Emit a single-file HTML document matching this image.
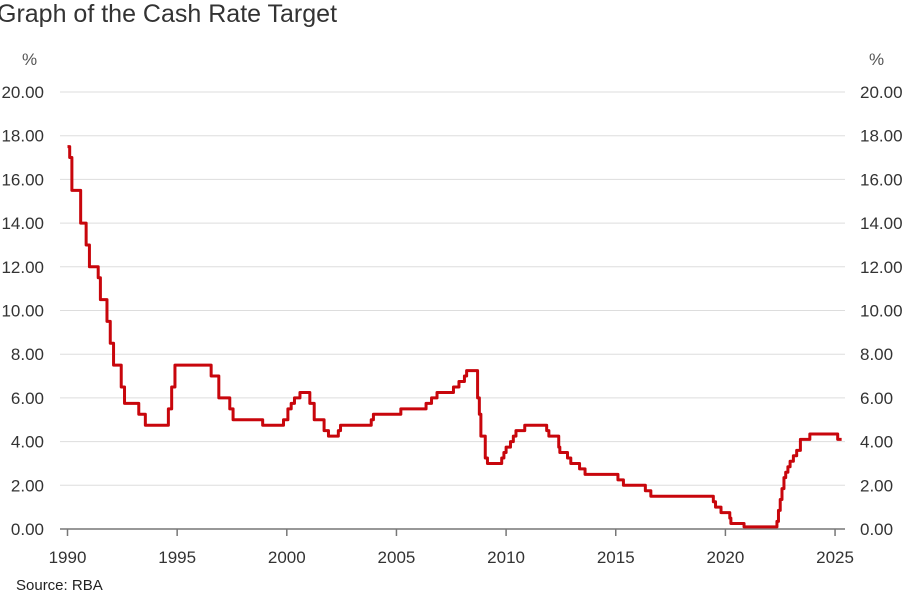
<!DOCTYPE html>
<html><head><meta charset="utf-8"><style>
html,body{margin:0;padding:0;background:#fff;width:905px;height:613px;overflow:hidden}
svg{display:block;font-family:"Liberation Sans",Arial,sans-serif}
</style></head><body>
<svg id="s" width="905" height="613" viewBox="0 0 905 613" xmlns="http://www.w3.org/2000/svg">
<text x="-3" y="22" font-size="25" fill="#333">Graph of the Cash Rate Target</text>
<text x="22" y="65" font-size="17" fill="#555">%</text>
<text x="869" y="65" font-size="17" fill="#555">%</text>
<g id="grid"></g>
<line x1="60" y1="529" x2="845" y2="529" stroke="#777" stroke-width="1.5"/>
<g id="ticks"></g>
<text x="16" y="590" font-size="15" fill="#222">Source: RBA</text>
<path id="line" fill="none" stroke="#c8060c" stroke-width="3" stroke-linejoin="round"/>
</svg>
<script>
var X=function(t){return 67.5+(t-1990)*21.93},Y=function(r){return 529-r*21.85};
var g='';
for(var v=0;v<=20;v+=2){var y=Y(v);
 if(v>0)g+='<line x1="60" x2="845" y1="'+y+'" y2="'+y+'" stroke="#ddd" stroke-width="1"/>';
 var l=v.toFixed(2);
 g+='<text x="44" y="'+(y+6)+'" font-size="17" fill="#333" text-anchor="end">'+l+'</text>';
 g+='<text x="860" y="'+(y+6)+'" font-size="17" fill="#333">'+l+'</text>';}
document.getElementById('grid').innerHTML=g;
var t='';
for(var yr=1990;yr<=2025;yr+=5){var x=X(yr);
 t+='<line x1="'+x+'" x2="'+x+'" y1="529" y2="536" stroke="#777" stroke-width="1.5"/>';
 t+='<text x="'+x+'" y="563" font-size="17" fill="#333" text-anchor="middle">'+yr+'</text>';}
document.getElementById('ticks').innerHTML=t;
var d=[[1990,17.5],[1990.1,17],[1990.2,15.5],[1990.6,14],[1990.85,13],[1991.0,12],[1991.4,11.5],[1991.5,10.5],[1991.8,9.5],[1991.95,8.5],[1992.1,7.5],[1992.45,6.5],[1992.6,5.75],[1993.25,5.25],[1993.55,4.75],[1994.6,5.5],[1994.75,6.5],[1994.9,7.5],[1996.55,7],[1996.9,6],[1997.4,5.5],[1997.55,5],[1998.9,4.75],[1999.85,5],[2000.05,5.5],[2000.2,5.75],[2000.35,6],[2000.6,6.25],[2001.05,5.75],[2001.25,5],[2001.7,4.5],[2001.9,4.25],[2002.35,4.5],[2002.45,4.75],[2003.85,5],[2003.95,5.25],[2005.2,5.5],[2006.35,5.75],[2006.6,6],[2006.85,6.25],[2007.6,6.5],[2007.85,6.75],[2008.1,7],[2008.2,7.25],[2008.7,6],[2008.78,5.25],[2008.85,4.25],[2009.05,3.25],[2009.15,3],[2009.8,3.25],[2009.9,3.5],[2010.0,3.75],[2010.2,4],[2010.33,4.25],[2010.45,4.5],[2010.85,4.75],[2011.85,4.5],[2011.95,4.25],[2012.4,3.75],[2012.45,3.5],[2012.8,3.25],[2012.95,3],[2013.35,2.75],[2013.6,2.5],[2015.1,2.25],[2015.35,2],[2016.35,1.75],[2016.6,1.5],[2019.45,1.25],[2019.55,1],[2019.8,0.75],[2020.2,0.5],[2020.25,0.25],[2020.85,0.1],[2022.35,0.35],[2022.42,0.85],[2022.5,1.35],[2022.58,1.85],[2022.67,2.35],[2022.75,2.6],[2022.85,2.85],[2022.95,3.1],[2023.1,3.35],[2023.25,3.6],[2023.42,4.1],[2023.85,4.35],[2025.12,4.1],[2025.3,4.1]];
var p='M'+X(d[0][0])+' '+Y(d[0][1]);
for(var i=1;i<d.length;i++){p+=' L'+X(d[i][0])+' '+Y(d[i-1][1])+' L'+X(d[i][0])+' '+Y(d[i][1]);}
document.getElementById('line').setAttribute('d',p);
</script>
</body></html>
